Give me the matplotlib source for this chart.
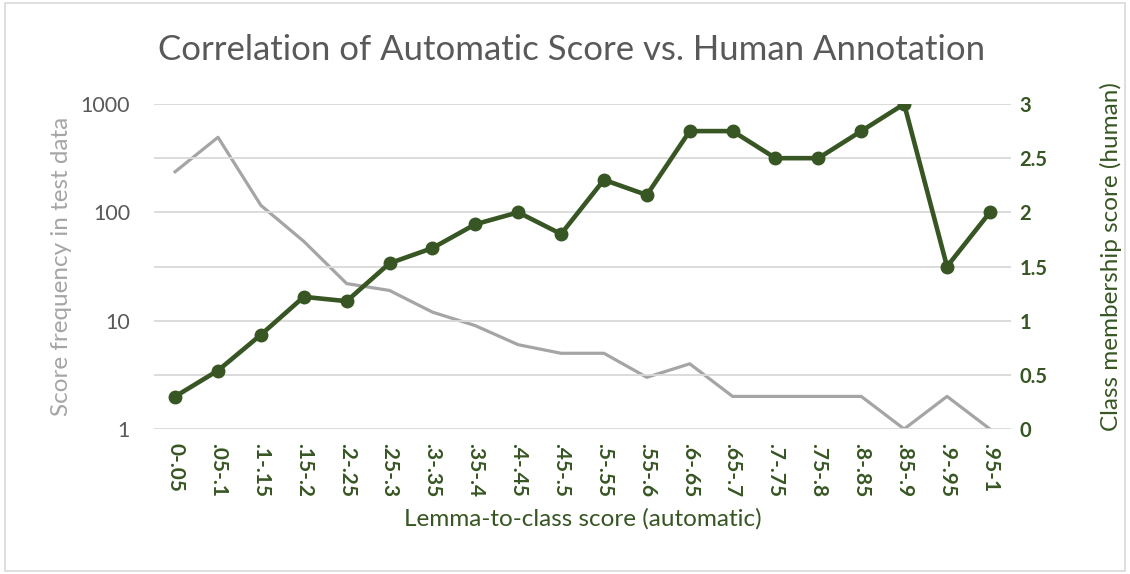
import matplotlib
matplotlib.use("Agg")
import matplotlib.pyplot as plt
from matplotlib.patches import Rectangle

categories = ["0-.05", ".05-.1", ".1-.15", ".15-.2", ".2-.25", ".25-.3", ".3-.35", ".35-.4",
              ".4-.45", ".45-.5", ".5-.55", ".55-.6", ".6-.65", ".65-.7", ".7-.75", ".75-.8",
              ".8-.85", ".85-.9", ".9-.95", ".95-1"]
frequency = [237, 493, 116, 54, 22, 19, 12, 9, 6, 5, 5, 3, 4, 2, 2, 2, 2, 1, 2, 1]
human_score = [0.3, 0.54, 0.87, 1.22, 1.18, 1.53, 1.67, 1.89, 2.0, 1.8, 2.3, 2.16,
               2.75, 2.75, 2.5, 2.5, 2.75, 3.0, 1.5, 2.0]
left_ticks = [1, 10, 100, 1000]
right_ticks = [0, 0.5, 1, 1.5, 2, 2.5, 3]
right_tick_labels = ["0", "0.5", "1", "1.5", "2", "2.5", "3"]

GREEN = "#375623"
GREY = "#A5A5A5"
TXT = "#595959"
GRID = "#D9D9D9"

plt.rcParams['font.family'] = ['Lato', 'DejaVu Sans']

fig = plt.figure(figsize=(11.3, 5.74), dpi=100)
fig.patches.append(Rectangle((0.004, 0.006), 0.992, 0.988, transform=fig.transFigure,
                             fill=False, edgecolor="#D9D9D9", linewidth=1.2))

ax = fig.add_axes([0.136, 0.2526, 0.759, 0.5662])
ax2 = ax.twinx()

x = list(range(len(categories)))

ax2.set_ylim(0, 3)
ax2.set_yticks(right_ticks)
ax2.set_yticklabels(right_tick_labels)
ax2.grid(True, color=GRID, linewidth=1.3)
ax2.set_axisbelow(True)

ax.plot(x, frequency, color=GREY, linewidth=2.3, zorder=3)
ax.set_yscale("log")
ax.set_ylim(1, 1000)
ax.set_yticks(left_ticks)
ax.set_yticklabels([str(t) for t in left_ticks])
ax.minorticks_off()
ax.set_xlim(-0.5, len(categories) - 0.5)
ax.set_xticks(x)
ax.set_xticklabels(categories, rotation=-90, fontweight="bold", color=GREEN, fontsize=15,
                   va="top", ha="center")

ax2.plot(x, human_score, color=GREEN, linewidth=3.3, marker="o", markersize=9, zorder=4)

for a in (ax, ax2):
    for s in a.spines.values():
        s.set_visible(False)
    a.tick_params(length=0)

ax.tick_params(axis="y", colors=TXT, labelsize=15.5, pad=17)
ax.tick_params(axis="x", pad=10)
ax2.tick_params(axis="y", colors=GREEN, labelsize=14.5, pad=6)
for lbl in ax2.get_yticklabels():
    lbl.set_fontweight("bold")

ax.set_ylabel("Score frequency in test data", color=GREY, fontsize=17.5, labelpad=6)
ax2.set_ylabel("Class membership score (human)", color=GREEN, fontsize=17.5, labelpad=30)
ax2.yaxis.set_label_coords(1.103, 0.53)
ax.set_xlabel("Lemma-to-class score (automatic)", color=GREEN, fontsize=17.5, labelpad=8)

fig.text(0.506, 0.913, "Correlation of Automatic Score vs. Human Annotation", ha="center",
         va="center", fontsize=25, color=TXT)

fig.savefig("out.png", dpi=100)
